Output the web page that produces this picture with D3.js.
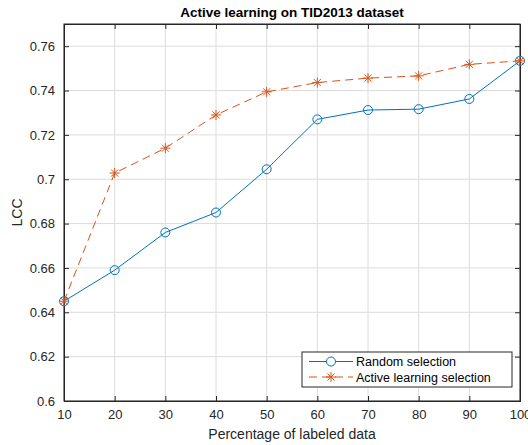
<!doctype html>
<html>
  <head>
    <script src="https://d3js.org/d3.v7.min.js"></script>
    <style>
        body { margin: 0; padding: 0; background: #fff; }
        svg { font-family: "Liberation Sans", Arial, sans-serif; }
    </style>
  </head>
  <body>
    <div id="chart"></div>
    <script>
        // data
        var percents = [10, 20, 30, 40, 50, 60, 70, 80, 90, 100];
        var randomLcc = [0.645, 0.659, 0.676, 0.685, 0.7045, 0.727, 0.7312, 0.7316, 0.7362, 0.7534];
        var activeLcc = [0.645, 0.7028, 0.714, 0.729, 0.7394, 0.7436, 0.7456, 0.7466, 0.7518, 0.7534];
        var xTicks = [10, 20, 30, 40, 50, 60, 70, 80, 90, 100];
        var yTicks = [0.6, 0.62, 0.64, 0.66, 0.68, 0.7, 0.72, 0.74, 0.76];
        var seriesNames = ["Random selection", "Active learning selection"];

        var width = 528, height = 445;
        var plotLeft = 64, plotRight = 520, plotTop = 24, plotBottom = 401;
        var blue = "#0072BD", orange = "#D95319", axisColor = "#262626";

        var svg = d3.select("#chart").append("svg")
            .attr("width", width)
            .attr("height", height);

        var x = d3.scaleLinear().domain([10, 100]).range([plotLeft, plotRight]);
        var y = d3.scaleLinear().domain([0.6, 0.77]).range([plotBottom, plotTop]);

        // grid
        svg.append("g").selectAll("line")
            .data(xTicks)
            .enter().append("line")
            .attr("x1", (d) => x(d)).attr("x2", (d) => x(d))
            .attr("y1", plotTop).attr("y2", plotBottom)
            .attr("stroke", "#dcdcdc").attr("stroke-width", 1);
        svg.append("g").selectAll("line")
            .data(yTicks)
            .enter().append("line")
            .attr("x1", plotLeft).attr("x2", plotRight)
            .attr("y1", (d) => y(d)).attr("y2", (d) => y(d))
            .attr("stroke", "#dcdcdc").attr("stroke-width", 1);

        // axes (ticks inward)
        var xAxis = svg.append("g")
            .attr("transform", "translate(0," + plotBottom + ")")
            .call(d3.axisBottom(x).tickValues(xTicks).tickSize(-5).tickPadding(9).tickFormat(d3.format("d")));
        var xTop = svg.append("g")
            .attr("transform", "translate(0," + plotTop + ")")
            .call(d3.axisTop(x).tickValues(xTicks).tickSize(-5).tickFormat(""));
        var yAxis = svg.append("g")
            .attr("transform", "translate(" + plotLeft + ",0)")
            .call(d3.axisLeft(y).tickValues(yTicks).tickSize(-5).tickPadding(9).tickFormat((d) => String(+d.toFixed(2))));
        var yRight = svg.append("g")
            .attr("transform", "translate(" + plotRight + ",0)")
            .call(d3.axisRight(y).tickValues(yTicks).tickSize(-5).tickFormat(""));

        [xAxis, xTop, yAxis, yRight].forEach(function (g) {
            g.select(".domain").attr("stroke", axisColor).attr("stroke-width", 1);
            g.selectAll(".tick line").attr("stroke", axisColor);
            g.selectAll("text").attr("fill", axisColor).style("font-size", "13px");
        });
        // close the box fully
        svg.append("rect")
            .attr("x", plotLeft).attr("y", plotTop)
            .attr("width", plotRight - plotLeft).attr("height", plotBottom - plotTop)
            .attr("fill", "none").attr("stroke", axisColor).attr("stroke-width", 1);

        var line = d3.line()
            .x((d, i) => x(percents[i]))
            .y((d) => y(d));

        // random selection
        svg.append("path")
            .datum(randomLcc)
            .attr("d", line)
            .attr("fill", "none")
            .attr("stroke", blue)
            .attr("stroke-width", 1);
        svg.append("g").selectAll("circle")
            .data(randomLcc)
            .enter().append("circle")
            .attr("cx", (d, i) => x(percents[i]))
            .attr("cy", (d) => y(d))
            .attr("r", 4.5)
            .attr("fill", "none")
            .attr("stroke", blue)
            .attr("stroke-width", 1);

        // active learning
        svg.append("path")
            .datum(activeLcc)
            .attr("d", line)
            .attr("fill", "none")
            .attr("stroke", orange)
            .attr("stroke-width", 1)
            .attr("stroke-dasharray", "8,5");

        function star(g, cx, cy, r) {
            var a = r * 0.707;
            g.append("path")
                .attr("d", "M" + (cx - r) + "," + cy + "H" + (cx + r) +
                    "M" + cx + "," + (cy - r) + "V" + (cy + r) +
                    "M" + (cx - a) + "," + (cy - a) + "L" + (cx + a) + "," + (cy + a) +
                    "M" + (cx - a) + "," + (cy + a) + "L" + (cx + a) + "," + (cy - a))
                .attr("stroke", orange)
                .attr("stroke-width", 1)
                .attr("fill", "none");
        }
        var stars = svg.append("g");
        activeLcc.forEach(function (d, i) { star(stars, x(percents[i]), y(d), 5); });

        // title and labels
        svg.append("text")
            .attr("x", (plotLeft + plotRight) / 2).attr("y", 17)
            .attr("text-anchor", "middle")
            .style("font-size", "13.5px").style("font-weight", "bold")
            .attr("fill", "#000")
            .text("Active learning on TID2013 dataset");
        svg.append("text")
            .attr("x", (plotLeft + plotRight) / 2).attr("y", 439)
            .attr("text-anchor", "middle")
            .style("font-size", "14px")
            .attr("fill", axisColor)
            .text("Percentage of labeled data");
        svg.append("text")
            .attr("transform", "translate(22," + ((plotTop + plotBottom) / 2) + ") rotate(-90)")
            .attr("text-anchor", "middle")
            .style("font-size", "14px")
            .attr("fill", axisColor)
            .text("LCC");

        // legend
        var lg = svg.append("g").attr("transform", "translate(302,352)");
        lg.append("rect")
            .attr("width", 210).attr("height", 35)
            .attr("fill", "#fff").attr("stroke", axisColor).attr("stroke-width", 1);
        lg.append("line")
            .attr("x1", 7).attr("x2", 51).attr("y1", 9.5).attr("y2", 9.5)
            .attr("stroke", blue);
        lg.append("circle")
            .attr("cx", 29).attr("cy", 9.5).attr("r", 4.5)
            .attr("fill", "#fff").attr("stroke", blue);
        lg.append("line")
            .attr("x1", 7).attr("x2", 51).attr("y1", 25).attr("y2", 25)
            .attr("stroke", orange).attr("stroke-dasharray", "8,5");
        star(lg, 29, 25, 5);
        lg.selectAll("text.leg")
            .data(seriesNames)
            .enter().append("text")
            .attr("class", "leg")
            .attr("x", 54)
            .attr("y", (d, i) => 14 + i * 15.5)
            .style("font-size", "12.5px")
            .attr("fill", "#000")
            .text((d) => d);
    </script>
  </body>
</html>
